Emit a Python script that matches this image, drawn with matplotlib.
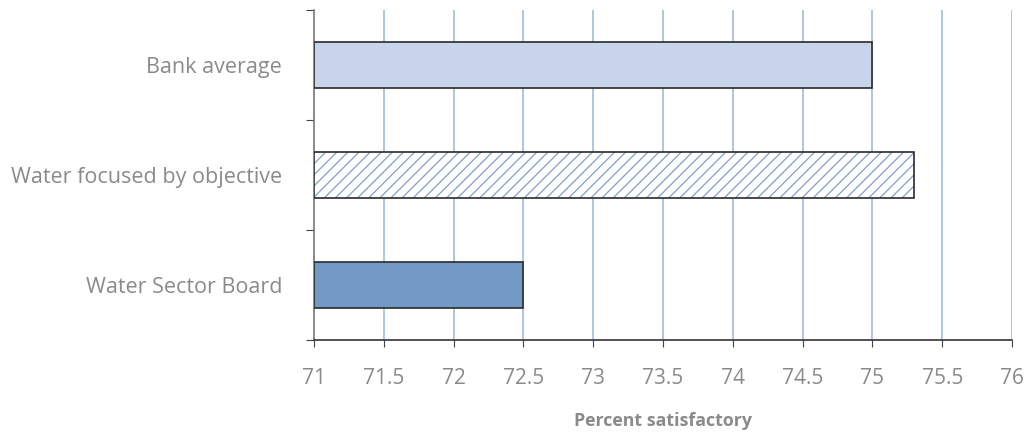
import matplotlib
matplotlib.use("Agg")
import matplotlib.pyplot as plt

# data
categories = ["Water Sector Board", "Water focused by objective", "Bank average"]
values = [72.5, 75.3, 75.0]
xticks = [71, 71.5, 72, 72.5, 73, 73.5, 74, 74.5, 75, 75.5, 76]
xtick_labels = ["71", "71.5", "72", "72.5", "73", "73.5", "74", "74.5", "75", "75.5", "76"]

plt.rcParams['font.family'] = ['Open Sans', 'DejaVu Sans']
plt.rcParams['hatch.linewidth'] = 0.9

grey = "#8a8a8a"
fig = plt.figure(figsize=(10.31, 4.34), dpi=100)
ax = fig.add_axes([314 / 1031, 1 - 340 / 434, 698 / 1031, 330 / 434])

base = 71
pos = list(range(len(categories)))
widths = [v - base for v in values]
h = 0.41

# solid bars
ax.barh(pos[0], widths[0], left=base, height=h, color="#7399c6",
        edgecolor="#2a2a2a", linewidth=1.2, zorder=3)
ax.barh(pos[2], widths[2], left=base, height=h, color="#c8d4ea",
        edgecolor="#2a2a2a", linewidth=1.2, zorder=3)
# hatched bar: hatch in blue, outline in dark
ax.barh(pos[1], widths[1], left=base, height=h, color="white",
        edgecolor="#7fa0d0", hatch="///", linewidth=0, zorder=3)
ax.barh(pos[1], widths[1], left=base, height=h, fill=False,
        edgecolor="#2a2a2a", linewidth=1.2, zorder=4)

ax.set_xlim(71, 76)
ax.set_ylim(-0.5, 2.5)
ax.set_xticks(xticks)
ax.set_xticklabels(xtick_labels, color=grey, fontsize=15)
ax.set_yticks([-0.5, 0.5, 1.5, 2.5], minor=False)
ax.set_yticklabels([])
ax.set_yticks(pos, minor=True)
ax.set_yticklabels(categories, minor=True, color=grey, fontsize=15.5)
ax.tick_params(axis="y", which="minor", length=0, pad=23)
ax.tick_params(axis="y", which="major", length=6, color="#444444", direction="out")
ax.tick_params(axis="x", length=5, color="#444444", direction="out", pad=15)

for x in xticks[1:]:
    ax.axvline(x, color="#a8c2e2", linewidth=1.3, zorder=1)

for s in ["top", "right"]:
    ax.spines[s].set_visible(False)
ax.spines["left"].set_color("#777777")
ax.spines["bottom"].set_color("#333333")
ax.spines["left"].set_linewidth(1.2)
ax.spines["bottom"].set_linewidth(1.2)

ax.set_xlabel("Percent satisfactory", color=grey, fontsize=12.8,
              fontweight="bold", labelpad=17)

fig.savefig("out.png", dpi=100)
